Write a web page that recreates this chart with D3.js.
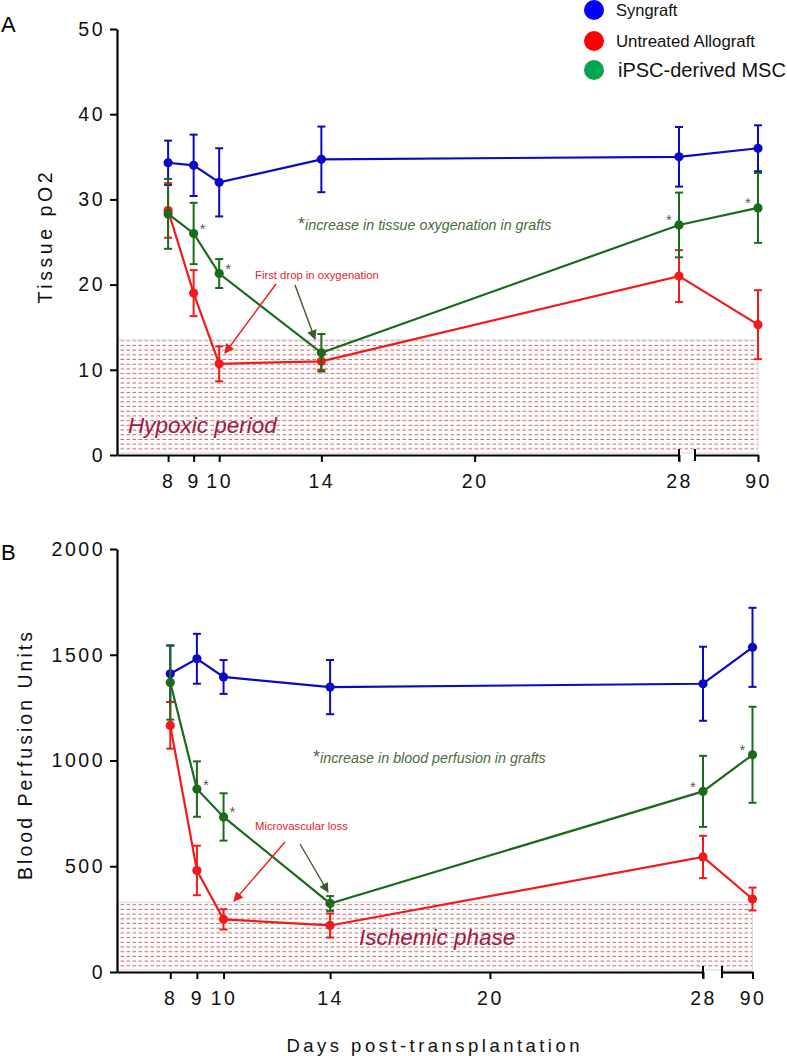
<!DOCTYPE html>
<html><head><meta charset="utf-8">
<script src="https://cdn.jsdelivr.net/npm/d3@7"></script>
<style>body{margin:0;background:#fff}svg{display:block;font-family:Arial,"Liberation Sans",sans-serif}</style>
</head><body>
<svg id="chart" width="787" height="1056"></svg>
<script>
// ---- data ----
const days = [8, 9, 10, 14, 28, 90];
const dayTicks = [8, 9, 10, 14, 20, 28, 90];
const seriesNames = ["Syngraft", "Untreated Allograft", "iPSC-derived MSC"];
const po2Ticks = [0, 10, 20, 30, 40, 50];
const po2Syngraft = [34.3, 34.0, 32.0, 34.7, 35.0, 36.0];
const po2SyngraftErr = [2.6, 3.6, 4.0, 3.85, 3.5, 2.7];
const po2Allograft = [28.7, 19.0, 10.7, 11.0, 21.0, 15.3];
const po2AllograftErr = [3.2, 2.7, 2.05, 1.0, 3.05, 4.05];
const po2MSC = [28.3, 26.0, 21.3, 12.0, 27.0, 29.0];
const po2MSCErr = [4.1, 3.6, 1.7, 2.2, 3.8, 4.1];
const po2Hypoxic = 13.5;
const bpuTicks = [0, 500, 1000, 1500, 2000];
const bpuSyngraft = [1410, 1481, 1395, 1347, 1363, 1535];
const bpuSyngraftErr = [133, 118, 80, 128, 175, 187];
const bpuAllograft = [1166, 480, 249, 220, 544, 345];
const bpuAllograftErr = [110, 117, 48, 57, 100, 54];
const bpuMSC = [1369, 865, 733, 324, 854, 1027];
const bpuMSCErr = [176, 131, 112, 35, 168, 227];
const bpuIschemic = 330;
const starDaysIdx = [1, 2, 4, 5];

const lineColors = ["#0a0ac2", "#f21a1a", "#1c6a1c"];
const legendColors = ["#0000ff", "#ff0000", "#00a651"];
const starColor = "#4f5f44";
const noteGreen = "#4b6b3b";
const zoneColor = "#9e1a40";

const svg = d3.select("#chart");
const defs = svg.append("defs");
const pat = defs.append("pattern").attr("id", "hatch").attr("patternUnits", "userSpaceOnUse")
  .attr("width", 6).attr("height", 4.7);
pat.append("rect").attr("width", 6).attr("height", 4.7).attr("fill", "#fefbfb");
pat.append("line").attr("x1", 0.5).attr("x2", 4).attr("y1", 2.3).attr("y2", 2.3)
  .attr("stroke", "#b9707c").attr("stroke-width", 1);
function marker(id, color) {
  defs.append("marker").attr("id", id).attr("viewBox", "0 0 10 10").attr("refX", 9).attr("refY", 5)
    .attr("markerWidth", 7).attr("markerHeight", 7).attr("orient", "auto-start-reverse")
    .append("path").attr("d", "M0,0 L10,5 L0,10 z").attr("fill", color);
}
marker("arrRed", "#f21a1a");
marker("arrGreen", "#3f5a2e");

function drawPanel(cfg) {
  const g = svg.append("g");
  const x1 = d3.scaleLinear().domain([6, 28]).range([cfg.x0, cfg.x28]);
  const x2 = d3.scaleLinear().domain([cfg.d2, 90]).range([cfg.xb, cfg.x90]);
  const x = d => d <= 28 ? x1(d) : x2(d);
  const y = d3.scaleLinear().domain(cfg.yDomain).range([cfg.y0, cfg.yTop]);
  const fmt = d3.format("d");

  // shaded zone
  g.append("rect").attr("x", cfg.x0 + 1).attr("y", y(cfg.zone)).attr("width", cfg.x90 - cfg.x0 - 1)
    .attr("height", y(0) - y(cfg.zone) - 2).attr("fill", "url(#hatch)")
    .attr("stroke", "#d3dce6").attr("stroke-width", 1);
  g.append("text").attr("x", cfg.zoneX).attr("y", cfg.zoneY).attr("font-size", 22.5)
    .attr("font-style", "italic").attr("fill", zoneColor).text(cfg.zoneLabel);

  // axes
  const ya = g.append("g").attr("transform", `translate(${cfg.x0},0)`)
    .call(d3.axisLeft(y).tickValues(cfg.yTicks).tickFormat(fmt).tickSize(7).tickSizeOuter(0).tickPadding(5));
  const xa1 = g.append("g").attr("transform", `translate(0,${cfg.y0})`)
    .call(d3.axisBottom(x1).tickValues(dayTicks.filter(d => d <= 28)).tickFormat(fmt).tickSize(7).tickSizeOuter(0).tickPadding(12));
  const xa2 = g.append("g").attr("transform", `translate(0,${cfg.y0})`)
    .call(d3.axisBottom(x2).tickValues(dayTicks.filter(d => d > 28)).tickFormat(fmt).tickSize(7).tickSizeOuter(0).tickPadding(12));
  [ya, xa1, xa2].forEach(a => {
    a.select(".domain").attr("stroke", "#000").attr("stroke-width", 2.2);
    a.selectAll(".tick line").attr("stroke", "#000").attr("stroke-width", 2);
    a.selectAll(".tick text").attr("font-size", 19.5).attr("fill", "#111")
      .style("letter-spacing", "2.5px").attr("font-family", "Arial, 'Liberation Sans', sans-serif");
  });
  // break marks
  [cfg.x28, cfg.xb].forEach(bx => g.append("line").attr("x1", bx).attr("x2", bx)
    .attr("y1", cfg.y0 - 6).attr("y2", cfg.y0 + 6).attr("stroke", "#000").attr("stroke-width", 2));

  // axis title
  g.append("text").attr("transform", `translate(${cfg.titleX},${cfg.titleY}) rotate(-90)`)
    .attr("text-anchor", "middle").attr("font-size", 19.5).attr("fill", "#111")
    .attr("textLength", cfg.titleLen).attr("lengthAdjust", "spacing").text(cfg.title);

  // panel letter
  g.append("text").attr("x", 1).attr("y", cfg.letterY).attr("font-size", 22).attr("fill", "#000").text(cfg.letter);

  // series
  const line = d3.line().x((d, i) => x(days[i])).y(d => y(d));
  cfg.series.forEach((s, k) => {
    const col = lineColors[k];
    const sg = g.append("g");
    s.vals.forEach((v, i) => {
      const cx = x(days[i]), lo = y(v - s.err[i]), hi = y(v + s.err[i]);
      sg.append("line").attr("x1", cx).attr("x2", cx).attr("y1", lo).attr("y2", hi).attr("stroke", col).attr("stroke-width", 2);
      [lo, hi].forEach(yy => sg.append("line").attr("x1", cx - 4).attr("x2", cx + 4).attr("y1", yy).attr("y2", yy)
        .attr("stroke", col).attr("stroke-width", 2));
    });
    sg.append("path").attr("d", line(s.vals)).attr("fill", "none").attr("stroke", col).attr("stroke-width", 2.2);
    sg.selectAll("circle").data(s.vals).join("circle").attr("cx", (d, i) => x(days[i])).attr("cy", d => y(d))
      .attr("r", 4.6).attr("fill", col);
  });

  // significance stars
  const msc = cfg.series[2].vals;
  starDaysIdx.forEach(i => {
    const dx = days[i] <= 10 ? 9 : -10;
    g.append("text").attr("x", x(days[i]) + dx).attr("y", y(msc[i]) + 0.5).attr("text-anchor", "middle")
      .attr("font-size", 15).attr("fill", starColor).text("*");
  });

  // note
  const note = g.append("text").attr("x", cfg.noteX).attr("y", cfg.noteY).attr("font-size", 14.3)
    .attr("font-style", "italic").attr("fill", noteGreen);
  note.append("tspan").attr("font-size", 18).attr("font-style", "normal").text("*");
  note.append("tspan").text(cfg.note);

  // red callout
  g.append("text").attr("x", cfg.callX).attr("y", cfg.callY).attr("font-size", 11.3).attr("fill", "#e8202a").text(cfg.callout);
  g.append("line").attr("x1", cfg.redArrow[0]).attr("y1", cfg.redArrow[1]).attr("x2", cfg.redArrow[2]).attr("y2", cfg.redArrow[3])
    .attr("stroke", "#f21a1a").attr("stroke-width", 1.4).attr("marker-end", "url(#arrRed)");
  g.append("line").attr("x1", cfg.greenArrow[0]).attr("y1", cfg.greenArrow[1]).attr("x2", cfg.greenArrow[2]).attr("y2", cfg.greenArrow[3])
    .attr("stroke", "#3f5a2e").attr("stroke-width", 1.4).attr("marker-end", "url(#arrGreen)");
}

drawPanel({
  letter: "A", letterY: 32, x0: 117, x28: 679, xb: 695, x90: 758, d2: 87.5,
  y0: 455, yTop: 29, yDomain: [0, 50], yTicks: po2Ticks, zone: po2Hypoxic,
  zoneLabel: "Hypoxic period", zoneX: 128, zoneY: 433,
  title: "Tissue pO2", titleX: 52, titleY: 238, titleLen: 131,
  series: [{vals: po2Syngraft, err: po2SyngraftErr}, {vals: po2Allograft, err: po2AllograftErr}, {vals: po2MSC, err: po2MSCErr}],
  noteX: 298, noteY: 230, note: "increase in tissue oxygenation in grafts",
  callX: 255, callY: 279, callout: "First drop in oxygenation",
  redArrow: [276, 284, 225, 353], greenArrow: [295, 285, 315, 339]
});
drawPanel({
  letter: "B", letterY: 560, x0: 117, x28: 703, xb: 722, x90: 752.5, d2: 88.85,
  y0: 972, yTop: 549, yDomain: [0, 2000], yTicks: bpuTicks, zone: bpuIschemic,
  zoneLabel: "Ischemic phase", zoneX: 359, zoneY: 945,
  title: "Blood Perfusion Units", titleX: 32, titleY: 756, titleLen: 248,
  series: [{vals: bpuSyngraft, err: bpuSyngraftErr}, {vals: bpuAllograft, err: bpuAllograftErr}, {vals: bpuMSC, err: bpuMSCErr}],
  noteX: 313, noteY: 763, note: "increase in blood perfusion in grafts",
  callX: 255, callY: 830, callout: "Microvascular loss",
  redArrow: [285, 842, 234, 901], greenArrow: [300, 844, 328, 892]
});

// x-axis title
svg.append("text").attr("x", 433).attr("y", 1052).attr("text-anchor", "middle").attr("font-size", 18.5)
  .attr("fill", "#111").attr("textLength", 293).attr("lengthAdjust", "spacing").text("Days post-transplantation");

// legend
const leg = svg.append("g");
const legFont = [16.5, 16.8, 20];
const legY = [10, 41, 70];
seriesNames.forEach((n, i) => {
  leg.append("circle").attr("cx", 594).attr("cy", legY[i]).attr("r", 10).attr("fill", legendColors[i]);
  leg.append("text").attr("x", i === 2 ? 618 : 616).attr("y", legY[i]).attr("dy", "0.36em")
    .attr("font-size", legFont[i]).attr("fill", "#111").text(n);
});
</script>
</body></html>
